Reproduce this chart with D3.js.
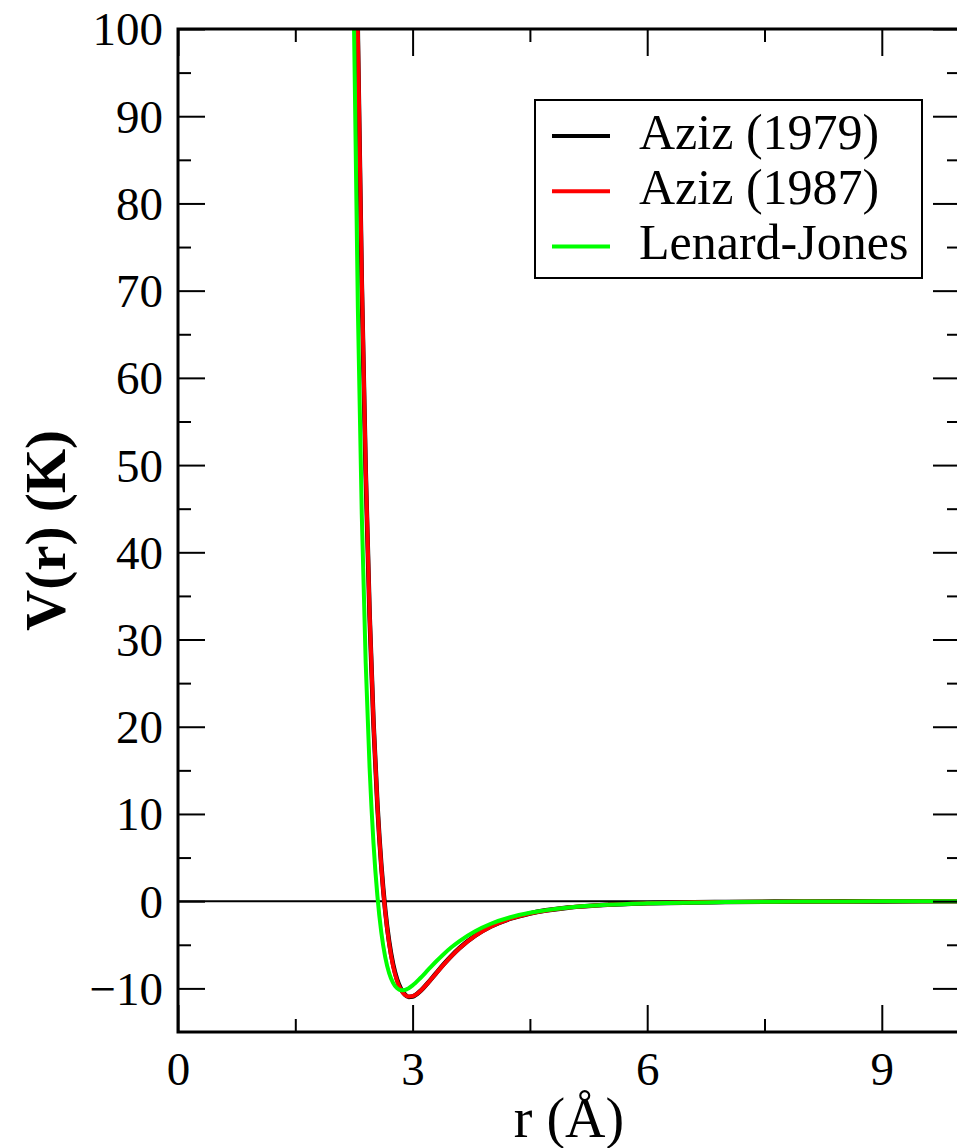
<!DOCTYPE html>
<html>
<head>
<meta charset="utf-8">
<script src="https://cdn.jsdelivr.net/npm/d3@7"></script>
<style>
  html, body { margin: 0; padding: 0; background: #fff; }
  svg { display: block; }
  text { font-family: "Liberation Serif", "Times New Roman", serif; fill: #000; }
</style>
</head>
<body>
<svg id="chart" width="957" height="1148"></svg>
<script>
// ---- data ----
const rValues = [2.25, 2.3, 2.35, 2.4, 2.45, 2.5, 2.55, 2.6, 2.65, 2.7, 2.75, 2.8, 2.85, 2.9, 2.95, 3.0,
                 3.1, 3.2, 3.3, 3.4, 3.5, 3.6, 3.8, 4.0, 4.25, 4.5, 5.0, 5.5, 6.0, 7.0, 8.0, 9.0, 10.0];
const vAziz1979 = [135.3, 98.9, 70.8, 49.3, 32.8, 20.4, 11.0, 4.06, -1.03, -4.67, -7.22, -8.95, -10.05, -10.68, -10.98, -10.93,
                   -10.30, -9.33, -8.26, -7.21, -6.24, -5.37, -3.95, -2.91, -2.00, -1.40, -0.73, -0.40, -0.235, -0.092, -0.041, -0.020, -0.0105];
const vAziz1987 = [136.1, 99.7, 71.5, 49.7, 33.1, 20.5, 11.0, 3.96, -1.19, -4.86, -7.42, -9.12, -10.17, -10.73, -10.94, -10.89,
                   -10.29, -9.34, -8.29, -7.24, -6.27, -5.40, -3.98, -2.93, -2.01, -1.41, -0.73, -0.40, -0.235, -0.091, -0.040, -0.020, -0.010];
const vLennardJones = [101.0, 68.0, 44.4, 27.4, 15.3, 6.64, 0.59, -3.59, -6.41, -8.25, -9.36, -9.97, -10.20, -10.18, -9.98, -9.66,
                       -8.81, -7.86, -6.92, -6.05, -5.26, -4.57, -3.44, -2.59, -1.84, -1.33, -0.72, -0.41, -0.244, -0.097, -0.043, -0.021, -0.011];
const seriesNames = ["Aziz (1979)", "Aziz (1987)", "Lenard-Jones"];
const seriesColors = ["#000000", "#ff0000", "#00ff00"];
const xMajorTicks = [0, 3, 6, 9];
const xMinorTicks = [1.5, 4.5, 7.5];
const yMajorTicks = [-10, 0, 10, 20, 30, 40, 50, 60, 70, 80, 90, 100];
const yMinorTicks = [-5, 5, 15, 25, 35, 45, 55, 65, 75, 85, 95];
const xDomain = [0, 10];
const yDomain = [-15, 100];
const xLabel = "r (Å)";
const yLabel = "V(r) (K)";

// ---- layout ----
const svg = d3.select("#chart");
const L = 178, T = 29, R = 960, B = 1032;
const x = d3.scaleLinear().domain(xDomain).range([L, R]);
const y = d3.scaleLinear().domain(yDomain).range([B, T]);
const MAJ = 27, MIN = 13;

svg.append("defs").append("clipPath").attr("id", "plotclip")
  .append("rect").attr("x", L).attr("y", T).attr("width", R - L).attr("height", B - T);

// zero line
svg.append("line")
  .attr("x1", x(xDomain[0])).attr("x2", x(xDomain[1]))
  .attr("y1", y(0)).attr("y2", y(0))
  .attr("stroke", "#000").attr("stroke-width", 2);

// series
const series = [vAziz1979, vAziz1987, vLennardJones];
const widths = [4.6, 4, 4];
const line = d3.line().x(d => x(d[0])).y(d => y(d[1])).curve(d3.curveMonotoneX);
const gLines = svg.append("g").attr("clip-path", "url(#plotclip)");
series.forEach((vals, i) => {
  const pts = rValues.map((r, j) => [r, vals[j]]);
  gLines.append("path").datum(pts)
    .attr("d", line)
    .attr("fill", "none")
    .attr("stroke", seriesColors[i])
    .attr("stroke-width", widths[i])
    .attr("stroke-linejoin", "round");
});

// axes helper
function styleAxis(g) {
  g.select(".domain").remove();
  g.selectAll(".tick line").attr("stroke", "#000").attr("stroke-width", 2);
}
const fmt = d3.format("d");

// bottom
svg.append("g").attr("transform", `translate(0,${B})`)
  .call(d3.axisBottom(x).tickValues(xMajorTicks).tickSize(-MAJ).tickPadding(20).tickFormat(fmt))
  .call(styleAxis)
  .call(g => g.selectAll("text").attr("font-size", 47).attr("font-family", "Liberation Serif").attr("dy", "0.71em").attr("y", 20));
svg.append("g").attr("transform", `translate(0,${B})`)
  .call(d3.axisBottom(x).tickValues(xMinorTicks).tickSize(-MIN).tickFormat(""))
  .call(styleAxis);
// top
svg.append("g").attr("transform", `translate(0,${T})`)
  .call(d3.axisTop(x).tickValues(xMajorTicks).tickSize(-MAJ).tickFormat(""))
  .call(styleAxis);
svg.append("g").attr("transform", `translate(0,${T})`)
  .call(d3.axisTop(x).tickValues(xMinorTicks).tickSize(-MIN).tickFormat(""))
  .call(styleAxis);
// left
svg.append("g").attr("transform", `translate(${L},0)`)
  .call(d3.axisLeft(y).tickValues(yMajorTicks).tickSize(-MAJ).tickPadding(15).tickFormat(fmt))
  .call(styleAxis)
  .call(g => g.selectAll("text").attr("font-size", 47).attr("font-family", "Liberation Serif").attr("dy", "0.34em"));
svg.append("g").attr("transform", `translate(${L},0)`)
  .call(d3.axisLeft(y).tickValues(yMinorTicks).tickSize(-MIN).tickFormat(""))
  .call(styleAxis);
// right
svg.append("g").attr("transform", `translate(${R},0)`)
  .call(d3.axisRight(y).tickValues(yMajorTicks).tickSize(-MAJ).tickFormat(""))
  .call(styleAxis);
svg.append("g").attr("transform", `translate(${R},0)`)
  .call(d3.axisRight(y).tickValues(yMinorTicks).tickSize(-MIN).tickFormat(""))
  .call(styleAxis);

// frame
svg.append("rect").attr("x", L).attr("y", T).attr("width", R - L).attr("height", B - T)
  .attr("fill", "none").attr("stroke", "#000").attr("stroke-width", 3);

// axis labels
svg.append("text").text(xLabel)
  .attr("x", (L + R) / 2).attr("y", 1137)
  .attr("text-anchor", "middle").attr("font-size", 56);
svg.append("text").text(yLabel)
  .attr("transform", `translate(65,${(T + B) / 2}) rotate(-90)`)
  .attr("text-anchor", "middle").attr("font-size", 57).attr("font-weight", "bold");

// legend
const lg = svg.append("g");
lg.append("rect").attr("x", 535).attr("y", 100).attr("width", 387).attr("height", 178)
  .attr("fill", "#fff").attr("stroke", "#000").attr("stroke-width", 2);
seriesNames.forEach((name, i) => {
  const ly = 136 + i * 55.2;
  lg.append("line").attr("x1", 552).attr("x2", 610).attr("y1", ly).attr("y2", ly)
    .attr("stroke", seriesColors[i]).attr("stroke-width", 4);
  lg.append("text").text(name).attr("x", 639).attr("y", ly + 12.6)
    .attr("font-size", 50);
});
</script>
</body>
</html>
